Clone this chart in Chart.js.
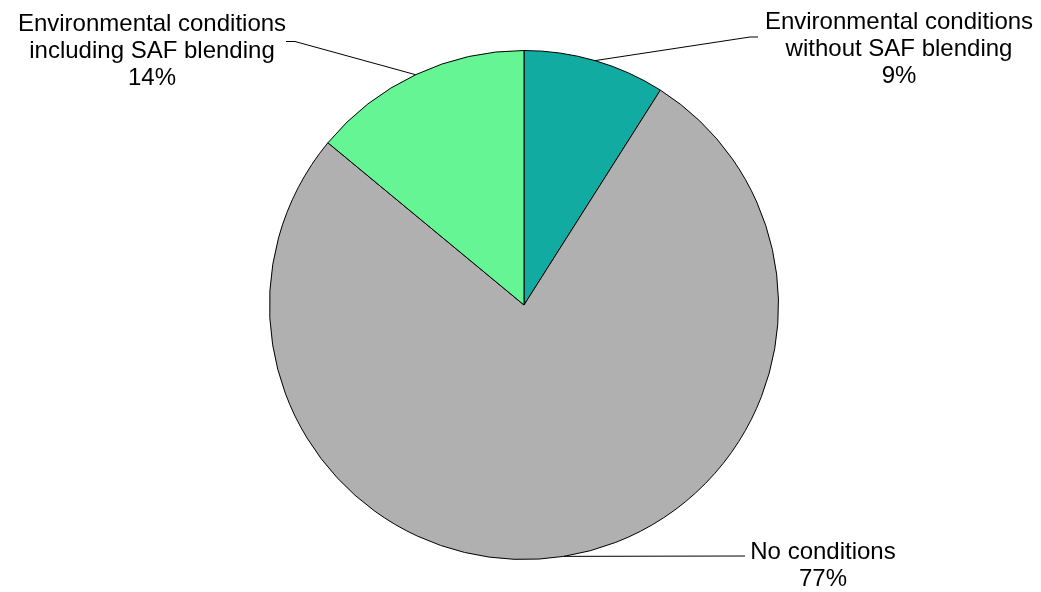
<!DOCTYPE html>
<html>
<head>
<meta charset="utf-8">
<script src="https://cdn.jsdelivr.net/npm/chart.js@4"></script>
<style>
  html, body { margin: 0; padding: 0; background: #ffffff; }
  #wrap { width: 1041px; height: 592px; position: relative; }
</style>
</head>
<body>
<div id="wrap"><canvas id="pie"></canvas></div>
<script>
// data
const categories = [
    ["Environmental conditions", "without SAF blending"],
    ["No conditions"],
    ["Environmental conditions", "including SAF blending"]
];
const shares = [9, 77, 14];
const sliceColors = ["#12aba1", "#b0b0b0", "#66f595"];

// where each label sits: text centre, first baseline, leader elbow and end
const labelPos = [
    { x: 899, y: 29, elbow: [750, 37], end: [758, 37] },
    { x: 823, y: 559, elbow: [745, 556], end: [745, 556] },
    { x: 152, y: 31, elbow: [295, 41.5], end: [286, 41.5] }
];
const lineGap = 27;

// labels with leader lines
const leaderLabels = {
    id: "leaderLabels",
    afterDatasetsDraw(chart) {
        const ctx = chart.ctx;
        const arcs = chart.getDatasetMeta(0).data;
        ctx.save();
        ctx.strokeStyle = "#000";
        ctx.lineWidth = 1;
        ctx.fillStyle = "#000";
        ctx.font = "24px 'Liberation Sans', Arial, sans-serif";
        ctx.textAlign = "center";
        ctx.textBaseline = "alphabetic";
        arcs.forEach((arc, i) => {
            const p = labelPos[i];
            const mid = (arc.startAngle + arc.endAngle) / 2;
            const ax = arc.x + Math.cos(mid) * arc.outerRadius;
            const ay = arc.y + Math.sin(mid) * arc.outerRadius;
            ctx.beginPath();
            ctx.moveTo(ax, ay);
            ctx.lineTo(p.elbow[0], p.elbow[1]);
            ctx.lineTo(p.end[0], p.end[1]);
            ctx.stroke();

            const lines = categories[i].concat([shares[i] + "%"]);
            lines.forEach((t, k) => {
                ctx.fillText(t, p.x, p.y + k * lineGap);
            });
        });
        ctx.restore();
    }
};

const pieCtx = document.getElementById("pie").getContext("2d");
const chart = new Chart(pieCtx, {
    type: "pie",
    data: {
        labels: categories.map(c => c.join(" ")),
        datasets: [{
            data: shares,
            backgroundColor: sliceColors,
            borderColor: "#000000",
            borderWidth: 1
        }]
    },
    options: {
        responsive: true,
        maintainAspectRatio: false,
        animation: false,
        layout: {
            padding: { left: 269, right: 262, top: 50, bottom: 32 }
        },
        plugins: {
            legend: { display: false },
            tooltip: { enabled: false }
        }
    },
    plugins: [leaderLabels]
});
</script>
</body>
</html>
